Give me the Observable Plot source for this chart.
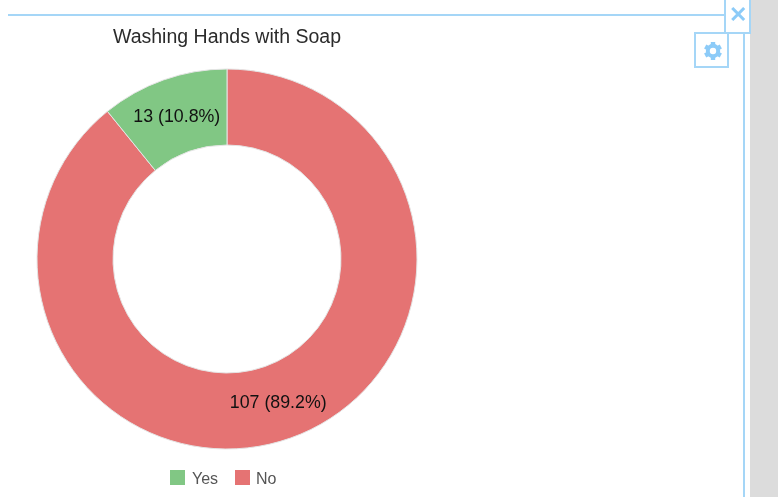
<!DOCTYPE html>
<html>
<head>
<meta charset="utf-8">
<script src="https://cdn.jsdelivr.net/npm/d3@7"></script>
<script src="https://cdn.jsdelivr.net/npm/@observablehq/plot@0.6"></script>
<style>
  html, body { margin: 0; padding: 0; background: #fff; width: 778px; height: 497px; overflow: hidden; }
  body { position: relative; font-family: "Liberation Sans", Arial, sans-serif; }
  #page { position: absolute; left: 0; top: 0; width: 778px; height: 497px; filter: blur(0.5px); }
  #chart { position: absolute; left: 0; top: 0; }
  #chart svg { display: block; }
  .abs { position: absolute; box-sizing: border-box; }
  #title { left: 0; width: 454px; top: 25px; text-align: center; font-size: 19.5px; line-height: 22px; color: #2b2b2b; white-space: nowrap; }
  #legend { left: 170px; top: 470px; height: 16px; font-size: 16px; line-height: 17px; color: #555; }
  .sw { position: absolute; top: 0; width: 15px; height: 15px; }
  .lb { position: absolute; top: 0; white-space: nowrap; }
  #gear, #close { color: #8ccbf8; text-align: center; }
</style>
</head>
<body>
<div id="page">
<div id="chart"></div>
<div class="abs" style="left:750px;top:0;width:28px;height:497px;background:#dcdcdc"></div>
<div class="abs" style="left:8px;top:14px;width:718px;height:2px;background:#a5d6f7"></div>
<div class="abs" style="left:743px;top:33px;width:2px;height:464px;background:#a5d6f7"></div>
<div class="abs" id="close" style="left:724px;top:-2px;width:27px;height:36px;background:#fff;border:2px solid #a5d6f7;border-top:none;font-size:22px;font-weight:bold;line-height:36px;padding-top:0"><span style="position:relative;top:-15px;display:block;height:36px;line-height:36px;margin-top:14px">✕</span></div>
<div class="abs" id="gear" style="left:694px;top:32px;width:35px;height:36px;background:#fff;border:2px solid #a5d6f7">
  <svg width="22" height="22" viewBox="-11 -11 22 22" style="position:absolute;left:6px;top:6px">
    <g stroke="#8ccbf8" fill="none">
      <circle r="5.2" stroke-width="4"/>
      <g stroke-width="4.4">
        <path d="M0 -9V-6" /><path d="M0 9V6" />
        <path d="M7.8 -4.5L5.2 -3" /><path d="M-7.8 -4.5L-5.2 -3" />
        <path d="M7.8 4.5L5.2 3" /><path d="M-7.8 4.5L-5.2 3" />
      </g>
    </g>
  </svg>
</div>
<div class="abs" id="title"></div>
<div class="abs" id="legend"></div>
</div>
<script>
const chartTitle = "Washing Hands with Soap";
const categories = ["No", "Yes"];
const counts = [107, 13];
const percents = ["89.2%", "10.8%"];
const colors = ["#e57373", "#81c784"];
const legendOrder = ["Yes", "No"];
const legendSwatchX = [0, 65];
const legendLabelX = [22, 86];

const pie = d3.pie().sort(null)(counts);
const innerRatio = 0.6;
const labelRatio = 0.8;
const slices = categories.map((label, i) => {
  const mid = (pie[i].startAngle + pie[i].endAngle) / 2;
  return {
    label,
    startAngle: pie[i].startAngle,
    endAngle: pie[i].endAngle,
    text: `${counts[i]} (${percents[i]})`,
    lx: labelRatio * Math.sin(mid),
    ly: labelRatio * Math.cos(mid)
  };
});

function drawArcs(index, scales, values) {
  const cx = scales.x(0), cy = scales.y(0);
  const R = scales.x(1) - scales.x(0);
  const arc = d3.arc().outerRadius(R).innerRadius(R * innerRatio);
  const g = d3.create("svg:g").attr("transform", `translate(${cx},${cy})`);
  for (const i of index) {
    g.append("path")
      .attr("d", arc({startAngle: slices[i].startAngle, endAngle: slices[i].endAngle}))
      .attr("fill", values.fill ? values.fill[i] : scales.color(slices[i].label))
      .attr("stroke", "#e4e4e4")
      .attr("stroke-width", 1);
  }
  return g.node();
}

const plot = Plot.plot({
  width: 778,
  height: 497,
  margin: 0,
  x: {domain: [-1, 1], range: [37, 417], axis: null},
  y: {domain: [-1, 1], range: [449, 69], axis: null},
  color: {domain: categories, range: colors},
  style: {background: "transparent", fontFamily: "'Liberation Sans', Arial, sans-serif"},
  marks: [
    Plot.dot(slices, {x: () => 0, y: () => 0, fill: "label", r: 1, render: drawArcs}),
    Plot.text(slices, {x: "lx", y: "ly", text: "text", fontSize: 17.8, fill: "#111"})
  ]
});
document.getElementById("chart").appendChild(plot);
document.getElementById("title").textContent = chartTitle;

const legend = document.getElementById("legend");
legendOrder.forEach((name, i) => {
  const sw = document.createElement("div");
  sw.className = "sw";
  sw.style.left = legendSwatchX[i] + "px";
  sw.style.background = colors[categories.indexOf(name)];
  const lb = document.createElement("div");
  lb.className = "lb";
  lb.style.left = legendLabelX[i] + "px";
  lb.textContent = name;
  legend.append(sw, lb);
});
</script>
</body>
</html>
